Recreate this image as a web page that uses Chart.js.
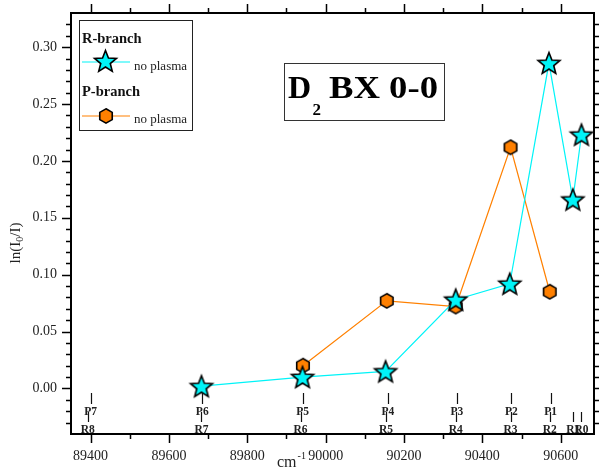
<!DOCTYPE html>
<html>
<head>
<meta charset="utf-8">
<script src="https://cdn.jsdelivr.net/npm/chart.js@4/dist/chart.umd.min.js"></script>
<style>
  html, body { margin: 0; padding: 0; background: #fff; }
</style>
</head>
<body>
<canvas id="chart" width="599" height="471"></canvas>
<script>
// R-branch (stars) and P-branch (hexagons), wavenumber in cm-1 vs ln(I0/I)
const rWave = [89683, 89941, 90153, 90332, 90470, 90570, 90631, 90653];
const rAbs  = [0.002, 0.010, 0.015, 0.078, 0.092, 0.286, 0.166, 0.223];
const pWave = [89942, 90156, 90332, 90472, 90572];
const pAbs  = [0.020, 0.077, 0.072, 0.212, 0.085];

// axis ticks
const xTicks = [89400, 89600, 89800, 90000, 90200, 90400, 90600];
const yTicks = [0.00, 0.05, 0.10, 0.15, 0.20, 0.25, 0.30];

// rotational line positions marked above the x axis
const pLineNames = ['P7', 'P6', 'P5', 'P4', 'P3', 'P2', 'P1'];
const pLinePos   = [89400, 89685, 89941, 90159, 90335, 90474, 90574];
const rLineNames = ['R8', 'R7', 'R6', 'R5', 'R4', 'R3', 'R2', 'R1', 'R0'];
const rLinePos   = [89393, 89683, 89936, 90154, 90332, 90472, 90572, 90632, 90653];

const SERIF = '"Liberation Serif", "DejaVu Serif", serif';
const CYAN = '#00f4f8';
const ORANGE = '#ff8000';

function starPath(g, cx, cy, R, r) {
  g.beginPath();
  for (let i = 0; i < 10; i++) {
    const a = -Math.PI / 2 + i * Math.PI / 5;
    const d = i % 2 ? r : R;
    g.lineTo(cx + d * Math.cos(a), cy + d * Math.sin(a));
  }
  g.closePath();
}

function hexPath(g, cx, cy, R) {
  g.beginPath();
  for (let i = 0; i < 6; i++) {
    const a = -Math.PI / 2 + i * Math.PI / 3;
    g.lineTo(cx + R * Math.cos(a), cy + R * Math.sin(a));
  }
  g.closePath();
}

function drawStar(g, cx, cy) {
  starPath(g, cx, cy + 1, 11.5, 5.0);
  g.fillStyle = CYAN; g.fill();
  g.lineWidth = 1.6; g.lineJoin = 'miter'; g.strokeStyle = '#000'; g.stroke();
}

function drawHex(g, cx, cy) {
  hexPath(g, cx, cy, 7.2);
  g.fillStyle = ORANGE; g.fill();
  g.lineWidth = 1.6; g.strokeStyle = '#000'; g.stroke();
}

function markerCanvas(draw, size) {
  const c = document.createElement('canvas');
  c.width = c.height = size;
  draw(c.getContext('2d'), size / 2, size / 2);
  return c;
}

const starImg = markerCanvas(drawStar, 28);
const hexImg = markerCanvas(drawHex, 20);

// frame, minor ticks, line markers, legend and labels
const decorations = {
  id: 'decorations',
  afterDraw(chart) {
    const g = chart.ctx;
    const a = chart.chartArea;
    const xs = chart.scales.x, ys = chart.scales.y;
    g.save();

    // tick marks on all four sides, pointing outward
    g.strokeStyle = '#000';
    g.lineWidth = 1.5;
    g.beginPath();
    for (let v = 89400; v <= 90684; v += 100) {
      const px = Math.round(xs.getPixelForValue(v)) + 0.5;
      const len = v % 200 === 0 ? 9 : 5;
      g.moveTo(px, a.bottom); g.lineTo(px, a.bottom + len);
      g.moveTo(px, a.top); g.lineTo(px, a.top - len);
    }
    for (let k = -3; k <= 32; k++) {
      const py = Math.round(ys.getPixelForValue(k / 100)) + 0.5;
      const len = k % 5 === 0 ? 9 : 5;
      g.moveTo(a.left, py); g.lineTo(a.left - len, py);
      g.moveTo(a.right, py); g.lineTo(a.right + len, py);
    }
    g.stroke();

    g.lineWidth = 2;
    g.strokeRect(a.left, a.top, a.right - a.left, a.bottom - a.top);

    // P and R line positions
    g.lineWidth = 1.2;
    g.strokeStyle = '#111';
    g.beginPath();
    pLinePos.forEach(v => {
      const px = Math.round(xs.getPixelForValue(v)) + 0.5;
      g.moveTo(px, a.bottom - 41); g.lineTo(px, a.bottom - 30);
    });
    rLinePos.forEach(v => {
      const px = Math.round(xs.getPixelForValue(v)) + 0.5;
      g.moveTo(px, a.bottom - 22); g.lineTo(px, a.bottom - 12);
    });
    g.stroke();

    g.fillStyle = '#222';
    g.font = 'bold 11.5px ' + SERIF;
    g.textAlign = 'center';
    g.textBaseline = 'middle';
    pLineNames.forEach((t, i) => g.fillText(t, xs.getPixelForValue(pLinePos[i]), a.bottom - 22));
    rLineNames.forEach((t, i) => g.fillText(t, xs.getPixelForValue(rLinePos[i]), a.bottom - 4));

    // y axis title: ln(I0/I)
    g.save();
    g.translate(15, 243);
    g.rotate(-Math.PI / 2);
    g.textAlign = 'left';
    g.textBaseline = 'alphabetic';
    g.fillStyle = '#222';
    const t1 = 'ln(I', t2 = '0', t3 = '/I)';
    g.font = '15px ' + SERIF;
    const w1 = g.measureText(t1).width, w3 = g.measureText(t3).width;
    g.font = '10px ' + SERIF;
    const w2 = g.measureText(t2).width;
    let x0 = -(w1 + w2 + w3) / 2;
    g.font = '15px ' + SERIF;
    g.fillText(t1, x0, 5);
    g.font = '10px ' + SERIF;
    g.fillText(t2, x0 + w1, 8);
    g.font = '15px ' + SERIF;
    g.fillText(t3, x0 + w1 + w2, 5);
    g.restore();

    // x axis title: cm-1
    g.textAlign = 'left';
    g.textBaseline = 'alphabetic';
    g.font = '16px ' + SERIF;
    g.fillText('cm', 277, 467);
    const wcm = g.measureText('cm').width;
    g.font = '10px ' + SERIF;
    g.fillText('-1', 277 + wcm + 1, 459);

    // legend
    g.lineWidth = 1;
    g.strokeStyle = '#222';
    g.strokeRect(79.5, 20.5, 113, 110);
    g.fillStyle = '#111';
    g.font = 'bold 14.5px ' + SERIF;
    g.fillText('R-branch', 82, 43);
    g.fillText('P-branch', 82, 96);
    g.font = '13px ' + SERIF;
    g.fillStyle = '#222';
    g.fillText('no plasma', 134, 70);
    g.fillText('no plasma', 134, 123);
    g.lineWidth = 1.2;
    g.strokeStyle = CYAN;
    g.beginPath(); g.moveTo(82, 62); g.lineTo(130, 62); g.stroke();
    g.strokeStyle = ORANGE;
    g.beginPath(); g.moveTo(82, 116); g.lineTo(130, 116); g.stroke();
    drawStar(g, 105.5, 61);
    drawHex(g, 106, 116);

    // title box: D2 BX 0-0
    g.lineWidth = 1;
    g.strokeStyle = '#333';
    g.strokeRect(284.5, 63.5, 160, 57);
    g.fillStyle = '#000';
    g.font = 'bold 32px ' + SERIF;
    g.fillText('D', 288, 97.5);
    g.font = 'bold 17px ' + SERIF;
    g.fillText('2', 312.5, 115);
    g.font = 'bold 32px ' + SERIF;
    const wt = g.measureText('BX 0-0').width;
    g.save();
    g.translate(329, 97.5);
    g.scale(109 / wt, 1);
    g.fillText('BX 0-0', 0, 0);
    g.restore();

    g.restore();
  }
};

new Chart(document.getElementById('chart'), {
  type: 'scatter',
  data: {
    datasets: [
      {
        label: 'R-branch',
        data: rWave.map((x, i) => ({ x, y: rAbs[i] })),
        showLine: true,
        borderColor: CYAN,
        borderWidth: 1.2,
        pointStyle: starImg,
        pointRadius: 11
      },
      {
        label: 'P-branch',
        data: pWave.map((x, i) => ({ x, y: pAbs[i] })),
        showLine: true,
        borderColor: ORANGE,
        borderWidth: 1.2,
        pointStyle: hexImg,
        pointRadius: 8
      }
    ]
  },
  options: {
    responsive: false,
    devicePixelRatio: 1,
    animation: false,
    layout: { autoPadding: false, padding: { left: 0, top: 13, right: 5, bottom: 0 } },
    plugins: { legend: { display: false }, tooltip: { enabled: false } },
    scales: {
      x: {
        type: 'linear',
        min: 89350,
        max: 90685,
        afterFit: s => { s.height = 37; s.paddingLeft = 0; s.paddingRight = 0; },
        afterBuildTicks: s => { s.ticks = xTicks.map(v => ({ value: v })); },
        grid: { color: 'rgba(0,0,0,0)', drawOnChartArea: false, tickLength: 9 },
        border: { display: false },
        ticks: {
          padding: 5,
          maxRotation: 0,
          color: '#222',
          font: { family: SERIF, size: 14 },
          callback: v => String(v)
        }
      },
      y: {
        min: -0.04,
        max: 0.33,
        afterFit: s => { s.width = 71; s.paddingTop = 0; s.paddingBottom = 0; },
        afterBuildTicks: s => { s.ticks = yTicks.map(v => ({ value: v })); },
        grid: { color: 'rgba(0,0,0,0)', drawOnChartArea: false, tickLength: 9 },
        border: { display: false },
        ticks: {
          padding: 5,
          color: '#222',
          font: { family: SERIF, size: 14 },
          callback: v => v.toFixed(2)
        }
      }
    }
  },
  plugins: [decorations]
});
</script>
</body>
</html>
